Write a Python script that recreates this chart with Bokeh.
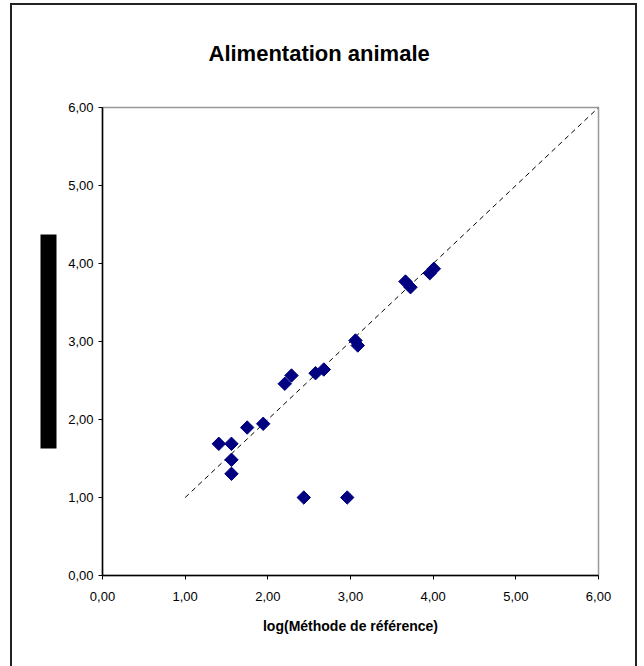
import math
from bokeh.plotting import figure
from bokeh.models import FixedTicker, Range1d, Title, InlineStyleSheet
from bokeh.embed import file_html
from bokeh.resources import INLINE

ref_x = [1.407, 1.560, 1.560, 1.560, 1.750, 1.944, 2.205, 2.286, 2.577, 2.677,
         2.435, 2.960, 3.060, 3.088, 3.665, 3.726, 3.959, 4.008]
meas_y = [1.688, 1.688, 1.483, 1.304, 1.897, 1.945, 2.458, 2.564, 2.594, 2.641,
          1.00, 1.00, 3.013, 2.949, 3.769, 3.696, 3.876, 3.932]
line_x = [1.0, 6.0]
line_y = [1.0, 6.0]
ticks = [0, 1, 2, 3, 4, 5, 6]
tick_labels = ["0,00", "1,00", "2,00", "3,00", "4,00", "5,00", "6,00"]

p = figure(width=644, height=666, output_backend="svg", toolbar_location=None,
           x_range=Range1d(0, 6), y_range=Range1d(0, 6),
           min_border_left=102, min_border_right=46, min_border_top=107,
           min_border_bottom=91)
p.title.text = "Alimentation animale"
p.title.align = "left"
p.title.vertical_align = "top"
p.title.text_font = "Liberation Sans"
p.title.text_font_size = "22px"
p.title.text_font_style = "bold"
p.title.text_color = "black"
p.title.offset = 106
p.title.standoff = 80

p.xgrid.visible = False
p.ygrid.visible = False
p.outline_line_color = "#999999"
p.outline_line_width = 1.5

overrides = {t: l for t, l in zip(ticks, tick_labels)}
for ax in (p.xaxis[0], p.yaxis[0]):
    ax.ticker = FixedTicker(ticks=ticks)
    ax.major_label_overrides = overrides
    ax.minor_tick_line_color = None
    ax.major_tick_in = 0
    ax.major_tick_out = 4
    ax.axis_line_color = "black"
    ax.axis_line_width = 1.5
    ax.major_tick_line_color = "black"
    ax.major_label_text_font = "Liberation Sans"
    ax.major_label_text_font_size = "13px"
    ax.major_label_text_color = "black"
p.xaxis[0].major_label_standoff = 12
p.yaxis[0].major_label_standoff = 5

p.xaxis[0].axis_label = "log(Méthode de référence)"
p.xaxis[0].axis_label_text_font = "Liberation Sans"
p.xaxis[0].axis_label_text_font_size = "14px"
p.xaxis[0].axis_label_text_font_style = "bold"
p.xaxis[0].axis_label_text_color = "black"
p.xaxis[0].axis_label_standoff = 14

p.line(line_x, line_y, line_color="black", line_width=1, line_dash="5 4")
p.scatter(ref_x, meas_y, marker="square", angle=math.pi / 4, size=9.5,
          fill_color="#000080", line_color="#000080")

# redacted y-axis title: a black box in the left panel (blank, black on black)
bar = Title(text="\u00a0" * 55, align="center", text_font_size="14px",
            text_color="black", background_fill_color="black",
            background_fill_alpha=1, padding=0, standoff=18)
p.add_layout(bar, "left")

# outer chart border (cut off at the bottom, as in the reference)
p.stylesheets = [InlineStyleSheet(css=(
    ":host::after{content:'';position:absolute;left:10px;top:3px;"
    "width:627px;height:690px;border:2px solid #222;box-sizing:border-box;"
    "pointer-events:none;}"))]

open("out.html", "w").write(file_html(p, INLINE))
